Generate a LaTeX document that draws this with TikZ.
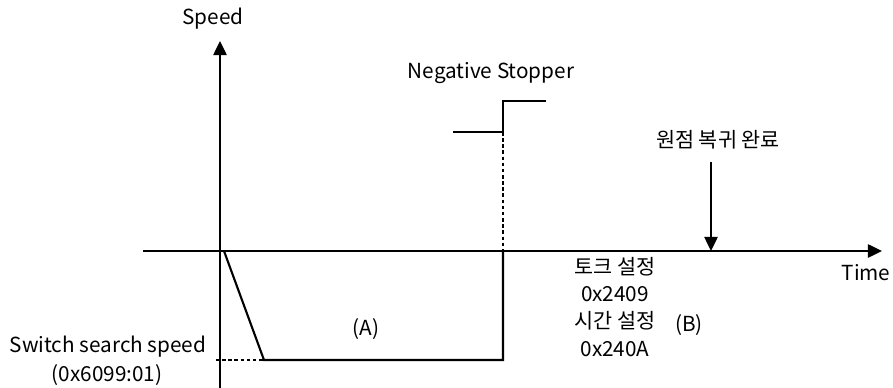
\documentclass[tikz,border=0pt]{standalone}
\usepackage{fontspec}
\setmainfont{Noto Sans CJK KR}
\usepackage{tikz}
\usetikzlibrary{arrows.meta}
\definecolor{figline}{RGB}{0,0,0}
\tikzset{
  ax/.style   ={draw=figline, line width=1.2pt, -{Triangle[length=8pt,width=7.5pt]}},
  sc/.style   ={draw=figline, line width=1.2pt},
  scd/.style  ={draw=figline, line width=1.2pt, dash pattern=on 2pt off 1.5pt},
  lab/.style  ={font=\fontsize{11.8}{15.4}\selectfont, inner sep=1pt},
}

\begin{document}
\begin{tikzpicture}[x=0.02cm,y=-0.02cm]
  \useasboundingbox (0,0) rectangle (893,388);
  % axes
  \coordinate (o) at (220,251);
  \coordinate (ybot) at (220,388);
  \coordinate (ytop) at (220,41);
  \coordinate (xleft) at (143,251);
  \coordinate (xright) at (882,251);
  \draw[ax] (ybot) -- (ytop);
  \draw[ax] (xleft) -- (xright);
  \node[lab] (speed) at (213,19) {Speed};
  \node[lab] (time) at (866,273) {Time};
  % speed profile
  \coordinate (p0) at (224,251);
  \coordinate (p1) at (264,360);
  \coordinate (p2) at (503,360);
  \coordinate (p3) at (503,251);
  \coordinate (d0) at (216,360);
  \draw[sc] (p0) -- (p1) -- (p2) -- (p3);
  \draw[scd] (d0) -- (p1);
  \node[lab] (sws) at (108,347) {Switch search speed};
  \node[lab] (swsobj) at (107,375) {(0x6099:01)};
  \node[lab] (ra) at (366,329) {(A)};
  % stopper signal
  \coordinate (s0) at (453,132);
  \coordinate (s1) at (503,132);
  \coordinate (s2) at (503,101);
  \coordinate (s3) at (546,101);
  \draw[sc] (s0) -- (s1) -- (s2) -- (s3);
  \draw[scd] (s1) -- (p3);
  \node[lab] (stop) at (491,73) {Negative Stopper};
  % homing done
  \node[lab] (home) at (718,140) {원점 복귀 완료};
  \coordinate (h0) at (711,162);
  \coordinate (h1) at (711,251);
  \draw[ax] (h0) -- (h1);
  \node[lab,align=center] (torq) at (615,307) {토크 설정\\0x2409\\시간 설정\\0x240A};
  \node[lab] (rb) at (689,325) {(B)};
\end{tikzpicture}
\end{document}
